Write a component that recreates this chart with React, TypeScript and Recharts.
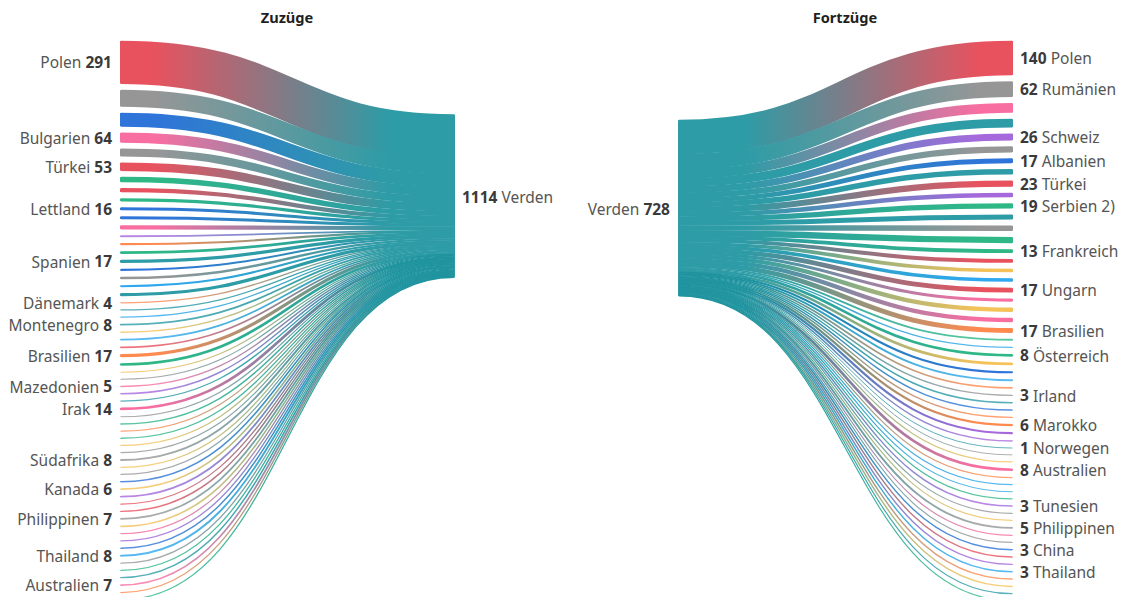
import { Sankey } from 'recharts';

// palette of the origin / destination countries
const RED = '#e8525f';
const GRAY = '#969696';
const BLUE = '#2f74d9';
const PINK = '#f86ea1';
const GREEN = '#2fb886';
const TEAL = '#2e9ca6';
const DEEP_TEAL = '#1f949f';
const PURPLE = '#a569dc';
const ORANGE = '#ff8a50';
const YELLOW = '#f5c25a';
const SKY = '#2fa8f0';

const FONT = '"Noto Sans", sans-serif';

const inNames = [
    'Polen', '', '', 'Bulgarien', '', 'Türkei', '', '', '', 'Lettland',
    '', '', '', '', '', 'Spanien', '', '', '', '',
    'Dänemark', '', '', 'Montenegro', '', '', '', 'Brasilien', '', '',
    '', 'Mazedonien', '', '', 'Irak', '', '', '', '', '',
    '', 'Südafrika', '', '', '', 'Kanada', '', '', '', 'Philippinen',
    '', '', '', '', 'Thailand', '', '', '', 'Australien', '', '',
];
const inValues = [
    291, 111, 91, 64, 50, 53, 32, 24, 17, 16,
    16, 24, 8, 10, 14, 17, 9, 12, 9, 17,
    4, 4, 4, 8, 5, 7, 7, 17, 13, 3,
    3, 5, 5, 4, 14, 3, 5, 3, 4, 4,
    3, 8, 3, 3, 6, 6, 7, 4, 5, 7,
    6, 4, 4, 5, 8, 4, 4, 5, 7, 4, 4,
];
const inColors = [
    RED, GRAY, BLUE, PINK, GRAY, RED, GREEN, RED, GREEN, BLUE,
    BLUE, PINK, PURPLE, ORANGE, GREEN, TEAL, BLUE, GRAY, SKY, TEAL,
    ORANGE, TEAL, SKY, TEAL, YELLOW, SKY, RED, ORANGE, GREEN, YELLOW,
    GRAY, PINK, PURPLE, TEAL, PINK, GRAY, GREEN, ORANGE, GREEN, YELLOW,
    GRAY, GRAY, YELLOW, GRAY, BLUE, YELLOW, PURPLE, RED, RED, GRAY,
    YELLOW, PINK, PURPLE, BLUE, SKY, GRAY, GREEN, TEAL, PINK, ORANGE, GREEN,
];

const outNames = [
    'Polen', 'Rumänien', '', '', 'Schweiz', '', 'Albanien', '', 'Türkei', '',
    'Serbien 2)', '', '', '', 'Frankreich', '', '', '', 'Ungarn', '',
    '', '', 'Brasilien', '', '', 'Österreich', '', '', '', '',
    'Irland', '', '', '', 'Marokko', '', '', 'Norwegen', '', '',
    'Australien', '', '', '', '', 'Tunesien', '', '', 'Philippinen', '',
    '', 'China', '', '', 'Thailand', '', '', '', '',
];
const outValues = [
    140, 62, 38, 33, 26, 22, 17, 20, 23, 16,
    19, 18, 20, 23, 13, 13, 12, 12, 17, 10,
    15, 15, 17, 5, 3, 8, 8, 6, 5, 4,
    3, 3, 3, 3, 6, 6, 3, 1, 1, 2,
    8, 2, 2, 2, 2, 3, 2, 2, 5, 2,
    2, 3, 3, 3, 3, 3, 3, 2, 2,
];
const outColors = [
    RED, GRAY, PINK, TEAL, PURPLE, GRAY, BLUE, TEAL, RED, PURPLE,
    GREEN, TEAL, GRAY, GREEN, GREEN, RED, YELLOW, SKY, RED, PINK,
    YELLOW, PINK, ORANGE, GREEN, SKY, GREEN, YELLOW, BLUE, SKY, ORANGE,
    GRAY, TEAL, BLUE, ORANGE, ORANGE, PURPLE, PURPLE, TEAL, GRAY, YELLOW,
    PINK, ORANGE, SKY, SKY, GREEN, PURPLE, GRAY, YELLOW, GRAY, PINK,
    GRAY, BLUE, RED, PURPLE, SKY, ORANGE, YELLOW, TEAL, GREEN,
];

const HUB = 'Verden';
const inTotal = 1114;
const outTotal = 728;
const IN_DEEP_FROM = 29; // rows below this index end in the darker teal
const OUT_DEEP_FROM = 27;

const inData = {
    nodes: [
        ...inNames.map((name, i) => ({ name, amount: inValues[i], color: inColors[i], hubColor: i >= IN_DEEP_FROM ? DEEP_TEAL : TEAL })),
        { name: HUB, amount: inTotal, color: TEAL },
    ],
    links: inValues.map((value, i) => ({ source: i, target: inValues.length, value })),
};

const outData = {
    nodes: [
        { name: HUB, amount: outTotal, color: TEAL },
        ...outNames.map((name, i) => ({ name, amount: outValues[i], color: outColors[i], hubColor: i >= OUT_DEEP_FROM ? DEEP_TEAL : TEAL })),
    ],
    links: outValues.map((value, i) => ({ source: 0, target: i + 1, value })),
};

const GapLink = ({ sourceX, targetX, sourceY, targetY, sourceControlX, targetControlX, linkWidth, index, payload, prefix, hubLift = 0 }: any) => {
    const id = `${prefix}-${index}`;
    const isIn = prefix === 'in';
    const row = isIn ? payload.source : payload.target;
    // thin lines read paler at the country end
    const rowOpacity = linkWidth < 1.3 ? 0.8 : 1;
    const y0 = isIn ? sourceY : sourceY - hubLift;
    const y1 = isIn ? targetY - hubLift : targetY;
    return (
        <g>
            <defs>
                <linearGradient id={id} gradientUnits="userSpaceOnUse" x1={sourceX} x2={targetX} y1={0} y2={0}>
                    {isIn ? (
                        <>
                            <stop offset="10%" stopColor={row.color} stopOpacity={rowOpacity} />
                            <stop offset="80%" stopColor={row.hubColor} />
                        </>
                    ) : (
                        <>
                            <stop offset="20%" stopColor={row.hubColor} />
                            <stop offset="90%" stopColor={row.color} stopOpacity={rowOpacity} />
                        </>
                    )}
                </linearGradient>
            </defs>
            <path
                d={`M${sourceX},${y0}C${sourceControlX},${y0} ${targetControlX},${y1} ${targetX},${y1}`}
                fill="none"
                stroke={`url(#${id})`}
                strokeWidth={linkWidth + 0.7}
            />
        </g>
    );
};

const NodeLabel = ({ x, y, width, height, payload, side, hubLift = 0 }: any) => {
    const isHub = payload.name === HUB;
    const top = isHub ? y - hubLift : y;
    const cy = top + height / 2 + (isHub ? 3 : 2);
    // the value sits next to the band, the name on the far side
    const numberFirst = (side === 'in' && isHub) || (side === 'out' && !isHub);
    const textX = numberFirst ? x + width + 7 : x - 8;
    return (
        <g>
            <rect x={x} y={top} width={width} height={height} fill={payload.color} />
            {payload.name && (
                <text x={textX} y={cy} textAnchor={numberFirst ? 'start' : 'end'} dominantBaseline="middle" fontFamily={FONT} fontSize={15.5} fill="#555">
                    {numberFirst ? (
                        <>
                            <tspan fontWeight={700} fill="#3a3a3a">{payload.amount}</tspan> {payload.name}
                        </>
                    ) : (
                        <>
                            {payload.name} <tspan fontWeight={700} fill="#3a3a3a">{payload.amount}</tspan>
                        </>
                    )}
                </text>
            )}
        </g>
    );
};

const Title = ({ left, children }: any) => (
    <div style={{ position: 'absolute', left: left - 100, width: 200, top: 7, textAlign: 'center', fontFamily: FONT, fontWeight: 700, fontSize: 14.6, color: '#1f1f1f' }}>
        {children}
    </div>
);

export default function App() {
    return (
        <div style={{ position: 'absolute', left: 0, top: 0, width: 1123, height: 597, background: '#fff', overflow: 'hidden' }}>
            <Title left={287}>Zuzüge</Title>
            <Title left={845}>Fortzüge</Title>
            <div style={{ position: 'absolute', left: 0, top: 0 }}>
                <Sankey
                    width={560}
                    height={600}
                    data={inData}
                    margin={{ top: 41, bottom: 0, left: 120, right: 105 }}
                    nodeWidth={1}
                    nodePadding={6.6}
                    sort={false}
                    iterations={32}
                    node={(props: any) => <NodeLabel {...props} side="in" />}
                    link={(props: any) => <GapLink {...props} prefix="in" />}
                />
            </div>
            <div style={{ position: 'absolute', left: 560, top: 0 }}>
                <Sankey
                    width={563}
                    height={601}
                    data={outData}
                    margin={{ top: 41, bottom: 0, left: 118, right: 110 }}
                    nodeWidth={1}
                    nodePadding={6.62}
                    sort={false}
                    iterations={32}
                    node={(props: any) => <NodeLabel {...props} side="out" hubLift={2} />}
                    link={(props: any) => <GapLink {...props} prefix="out" hubLift={2} />}
                />
            </div>
        </div>
    );
}
